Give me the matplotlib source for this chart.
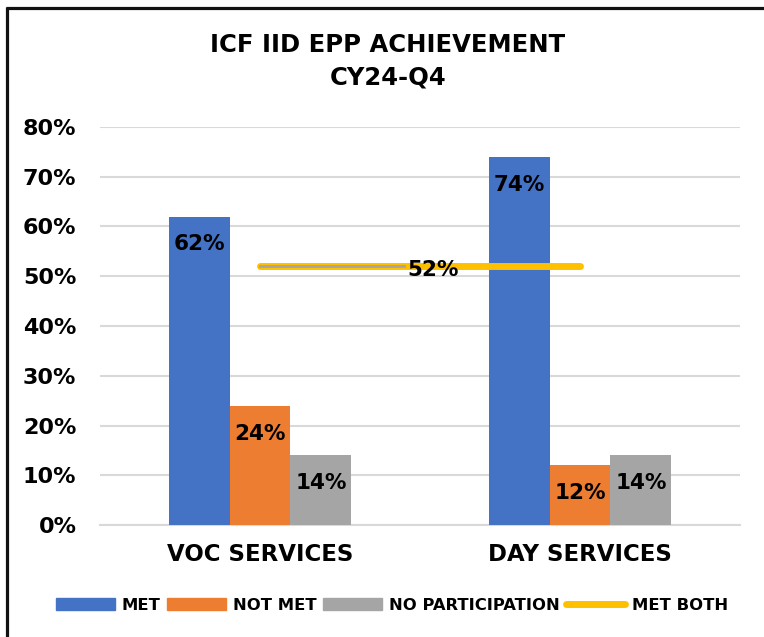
import matplotlib
matplotlib.use("Agg")
import matplotlib.pyplot as plt
from matplotlib.lines import Line2D
from matplotlib.patches import Patch
import numpy as np

plt.rcParams['font.family'] = ['DejaVu Sans']
plt.rcParams['font.weight'] = 'bold'

categories = ["VOC SERVICES", "DAY SERVICES"]
met = [62, 74]
not_met = [24, 12]
no_participation = [14, 14]
met_both = [52, 52]
series_names = ["MET", "NOT MET", "NO PARTICIPATION", "MET BOTH"]
yticks = [0, 10, 20, 30, 40, 50, 60, 70, 80]
ytick_labels = ["0%", "10%", "20%", "30%", "40%", "50%", "60%", "70%", "80%"]
title = "ICF IID EPP ACHIEVEMENT\nCY24-Q4"

colors = ["#4472C4", "#ED7D31", "#A5A5A5", "#FFC000"]

fig = plt.figure(figsize=(7.64, 6.37), dpi=100)
ax = fig.add_axes([100/764, 112/637, 640/764, 398/637])

x = np.arange(len(categories))
w = 0.19
bar_sets = [met, not_met, no_participation]
offsets = [-w, 0, w]
for vals, off, c in zip(bar_sets, offsets, colors[:3]):
    bars = ax.bar(x + off, vals, width=w, color=c, zorder=3)
    for b, v in zip(bars, vals):
        ax.text(b.get_x() + b.get_width()/2, v - 3.6, f"{v}%", ha="center", va="top",
                fontsize=15.5, fontweight="bold", color="black", zorder=5)

# MET BOTH line
ax.plot(x, met_both, color=colors[3], lw=5, solid_capstyle="round", zorder=4)
ax.plot([x[0], x[0] + 0.45*(x[1]-x[0])], met_both, color="#A5A5A5", lw=2, zorder=4)
ax.text(x.mean() + 0.04, met_both[0] - 0.8, f"{met_both[0]}%", ha="center", va="center",
        fontsize=15.5, fontweight="bold", color="black", zorder=6)

ax.set_xlim(-0.5, 1.5)
ax.set_ylim(0, 80)
ax.set_yticks(yticks)
ax.set_yticklabels(ytick_labels, fontsize=16, fontweight="bold")
ax.set_xticks(x)
ax.set_xticklabels(categories, fontsize=16.5, fontweight="bold")
ax.tick_params(axis="both", length=0)
ax.tick_params(axis="y", pad=17)
ax.tick_params(axis="x", pad=13)
ax.grid(axis="y", color="#D9D9D9", lw=1.5, zorder=0)
for s in ["top", "right", "left"]:
    ax.spines[s].set_visible(False)
ax.spines["bottom"].set_color("#D9D9D9")
ax.spines["bottom"].set_linewidth(1.5)

fig.text(0.5 + 6/764, 1 - 61/637, title, ha="center", va="center", fontsize=17.5,
         fontweight="bold", linespacing=1.45)

handles = [Patch(color=colors[0]), Patch(color=colors[1]), Patch(color=colors[2]),
           Line2D([0], [0], color=colors[3], lw=5, solid_capstyle="round")]
leg = fig.legend(handles, series_names, loc="center", bbox_to_anchor=(0.5 + 10/764, 1 - 605/637),
                 ncol=4, frameon=False, prop={"weight": "bold", "size": 11.8},
                 handlelength=3.6, handleheight=0.75, columnspacing=0.4, handletextpad=0.4)

# outer border (left and top)
fig.add_artist(Line2D([7/764, 7/764], [0, 1 - 7/637], color="#111111", lw=2.3,
                      transform=fig.transFigure, solid_capstyle="butt"))
fig.add_artist(Line2D([6/764, 1], [1 - 8/637, 1 - 8/637], color="#111111", lw=2.3,
                      transform=fig.transFigure, solid_capstyle="butt"))

fig.savefig("out.png", dpi=100)
